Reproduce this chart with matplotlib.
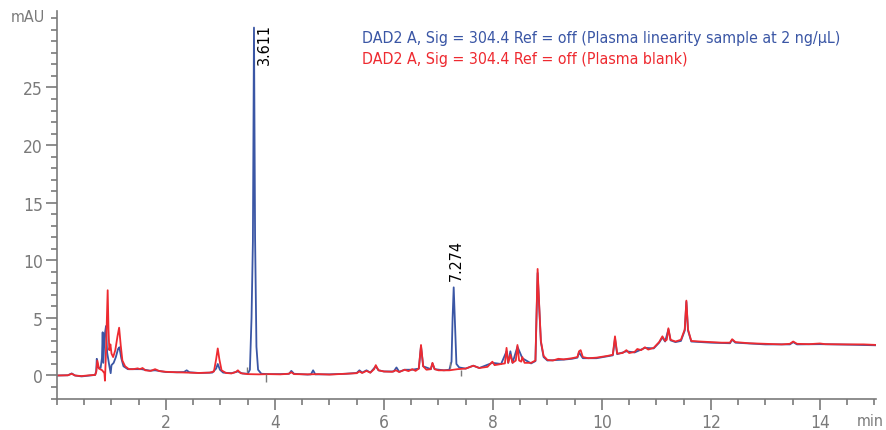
import numpy as np
import matplotlib
matplotlib.use('Agg')
import matplotlib.pyplot as plt
from matplotlib.ticker import MultipleLocator

plt.rcParams['font.family'] = ['DejaVu Sans']
plt.rcParams['font.stretch'] = 'condensed'

# ===== Plasma blank (red) =====
blank_t = [0.00, 0.20, 0.27, 0.33, 0.45, 0.60, 0.70, 0.72, 0.74, 0.77, 0.83, 0.87, 0.88,
           0.895, 0.915, 0.93, 0.945, 0.96, 0.98, 1.00, 1.03, 1.07, 1.11, 1.14, 1.17, 1.20,
           1.25, 1.32, 1.40, 1.48, 1.52, 1.57, 1.62, 1.72, 1.80, 1.88, 2.00, 2.20, 2.40,
           2.60, 2.80, 2.88, 2.92, 2.95, 2.98, 3.02, 3.10, 3.20, 3.28, 3.32, 3.37, 3.50,
           3.70, 3.90, 4.10, 4.25, 4.30, 4.35, 4.60, 4.80, 5.00, 5.30, 5.50, 5.55, 5.60,
           5.68, 5.75, 5.82, 5.85, 5.90, 6.00, 6.15, 6.22, 6.28, 6.38, 6.45, 6.52, 6.58,
           6.64, 6.68, 6.72, 6.78, 6.86, 6.89, 6.93, 7.00, 7.20, 7.35, 7.50, 7.64, 7.75,
           7.90, 7.99, 8.03, 8.15, 8.22, 8.25, 8.28, 8.32, 8.36, 8.42, 8.45, 8.48, 8.52,
           8.54, 8.58, 8.70, 8.78, 8.82, 8.85, 8.88, 8.93, 9.00, 9.10, 9.20, 9.30, 9.45,
           9.55, 9.58, 9.61, 9.65, 9.75, 9.90, 10.10, 10.20, 10.24, 10.28, 10.38, 10.45,
           10.50, 10.60, 10.65, 10.72, 10.79, 10.85, 10.95, 11.05, 11.11, 11.16, 11.19,
           11.22, 11.26, 11.35, 11.45, 11.52, 11.55, 11.58, 11.64, 11.80, 12.00, 12.20,
           12.35, 12.39, 12.45, 12.70, 13.00, 13.30, 13.45, 13.51, 13.58, 13.80, 14.00,
           14.10, 14.50, 14.80, 15.05]
blank_mau = [0.00, 0.02, 0.15, 0.00, -0.05, 0.02, 0.05, 0.30, 1.30, 0.60, 0.45, 0.20, -0.45,
             1.50, 5.00, 7.40, 4.00, 2.20, 2.70, 1.90, 1.60, 2.20, 3.40, 4.15, 2.60, 1.30,
             0.80, 0.55, 0.55, 0.62, 0.55, 0.65, 0.45, 0.40, 0.55, 0.38, 0.32, 0.28, 0.25,
             0.22, 0.25, 0.35, 1.40, 2.35, 1.40, 0.45, 0.22, 0.18, 0.30, 0.45, 0.20, 0.12,
             0.10, 0.12, 0.10, 0.15, 0.28, 0.12, 0.10, 0.12, 0.08, 0.15, 0.20, 0.35, 0.22,
             0.40, 0.25, 0.55, 0.90, 0.45, 0.35, 0.32, 0.45, 0.30, 0.50, 0.38, 0.55, 0.40,
             0.60, 2.65, 0.80, 0.50, 0.55, 1.10, 0.55, 0.45, 0.45, 0.55, 0.60, 0.85, 0.65,
             0.75, 1.20, 0.90, 1.00, 1.05, 2.40, 1.10, 1.80, 1.10, 1.30, 2.65, 1.30, 1.20,
             1.60, 1.10, 1.10, 1.30, 9.25, 6.00, 3.00, 1.70, 1.35, 1.30, 1.45, 1.40, 1.50,
             1.60, 2.10, 2.20, 1.60, 1.50, 1.55, 1.70, 1.80, 3.40, 1.90, 1.95, 2.20,
             1.95, 2.05, 2.30, 2.20, 2.45, 2.25, 2.40, 2.90, 3.40, 3.00, 3.10,
             4.10, 3.10, 2.95, 3.10, 4.00, 6.50, 4.00, 3.00, 2.95, 2.90, 2.85,
             2.85, 3.15, 2.90, 2.80, 2.75, 2.70, 2.75, 2.95, 2.75, 2.72, 2.78,
             2.72, 2.70, 2.70, 2.65]

# ===== Plasma linearity sample at 2 ng/uL (blue) =====
sample_t = [0.00, 0.20, 0.27, 0.33, 0.45, 0.60, 0.70, 0.72, 0.73, 0.75, 0.80, 0.825, 0.838,
            0.85, 0.875, 0.90, 0.92, 0.96, 0.985, 1.00, 1.04, 1.08, 1.12, 1.145, 1.18, 1.22,
            1.30, 1.45, 1.55, 1.70, 1.80, 2.00, 2.20, 2.33, 2.38, 2.43, 2.60, 2.85, 2.92,
            2.95, 2.99, 3.05, 3.20, 3.32, 3.40, 3.50, 3.54, 3.57, 3.595, 3.615, 3.635, 3.66,
            3.69, 3.75, 3.90, 4.10, 4.26, 4.30, 4.35, 4.60, 4.66, 4.70, 4.74, 5.00, 5.30,
            5.50, 5.55, 5.60, 5.68, 5.75, 5.85, 5.90, 6.00, 6.18, 6.23, 6.28, 6.38, 6.52,
            6.64, 6.68, 6.72, 6.86, 6.89, 6.93, 7.10, 7.20, 7.24, 7.26, 7.28, 7.30, 7.33,
            7.38, 7.50, 7.64, 7.75, 7.99, 8.15, 8.25, 8.28, 8.32, 8.36, 8.45, 8.54, 8.70,
            8.78, 8.82, 8.85, 8.88, 8.93, 9.00, 9.30, 9.45, 9.55, 9.58, 9.65, 9.90, 10.20,
            10.24, 10.28, 10.45, 10.60, 10.79, 10.95, 11.05, 11.11, 11.16, 11.22, 11.26,
            11.35, 11.45, 11.52, 11.55, 11.58, 11.64, 12.00, 12.35, 12.39, 12.45, 13.00,
            13.45, 13.51, 13.58, 14.00, 14.50, 15.05]
sample_mau = [0.00, 0.02, 0.18, 0.00, -0.08, 0.00, 0.05, 0.40, 1.45, 0.70, 0.65, 1.50, 3.75,
              1.10, 3.50, 4.30, 2.00, 0.85, 0.20, 0.90, 1.10, 1.60, 2.30, 2.45, 1.50, 0.80,
              0.55, 0.55, 0.55, 0.42, 0.45, 0.30, 0.28, 0.30, 0.45, 0.28, 0.22, 0.25, 0.60,
              1.00, 0.50, 0.25, 0.20, 0.35, 0.18, 0.15, 0.50, 5.00, 11.60, 30.20, 12.00, 2.50,
              0.50, 0.15, 0.12, 0.12, 0.15, 0.40, 0.15, 0.08, 0.10, 0.45, 0.10, 0.10, 0.15,
              0.22, 0.45, 0.25, 0.45, 0.25, 0.80, 0.45, 0.35, 0.35, 0.70, 0.32, 0.50, 0.50,
              0.60, 2.55, 0.80, 0.55, 1.05, 0.55, 0.45, 0.50, 1.20, 5.00, 7.65, 5.00, 1.00,
              0.70, 0.60, 0.85, 0.65, 1.10, 1.00, 2.10, 1.10, 2.10, 1.10, 2.50, 1.50, 1.05,
              1.25, 8.90, 5.80, 2.90, 1.60, 1.30, 1.38, 1.45, 1.55, 2.00, 1.50, 1.50, 1.75,
              3.20, 1.85, 2.10, 2.00, 2.40, 2.35, 2.85, 3.30, 2.95, 4.00, 3.05,
              2.90, 3.00, 3.90, 6.40, 3.90, 2.95, 2.85, 2.80, 3.10, 2.85, 2.70,
              2.70, 2.90, 2.70, 2.72, 2.68, 2.62]

# integration markers (gray ticks) and retention time labels
marker_t = [3.49, 3.83, 7.22, 7.41]
marker_lo = [0.3, -0.6, 0.65, -0.05]
marker_hi = [0.75, 0.1, 1.15, 0.45]
rt_labels = ['3.611', '7.274']
rt_x = [3.80, 7.33]
rt_y = [30.6, 11.85]

blue = '#3a56a5'
red = '#ee2a30'
gray = '#7a7a7a'

fig = plt.figure(figsize=(8.86, 4.31), dpi=100)
ax = fig.add_axes([57/886, 1-400/431, (876-57)/886, (400-12)/431])

ax.plot(sample_t, sample_mau, color=blue, lw=1.3)
ax.plot(blank_t, blank_mau, color=red, lw=1.3)
ax.vlines(marker_t, marker_lo, marker_hi, color=gray, lw=1.0)

for lab, x, y in zip(rt_labels, rt_x, rt_y):
    ax.text(x, y, lab, rotation=90, ha='center', va='top', fontsize=11.5, color='black')

ax.set_xlim(0, 15.03)
ax.set_ylim(-2.04, 31.64)
ax.xaxis.set_minor_locator(MultipleLocator(0.5))
ax.yaxis.set_minor_locator(MultipleLocator(1))
ax.set_xticks([2, 4, 6, 8, 10, 12, 14])
ax.set_yticks([0, 5, 10, 15, 20, 25])

for s in ['top', 'right']:
    ax.spines[s].set_visible(False)
for s in ['left', 'bottom']:
    ax.spines[s].set_color(gray)
    ax.spines[s].set_linewidth(1.2)

ax.tick_params(which='major', length=8, width=1.2, color=gray, labelcolor=gray,
               labelsize=12.5, pad=2)
ax.tick_params(which='minor', length=4, width=1.2, color=gray)

fig.text(45/886, 1-18/431, 'mAU', ha='right', va='center', fontsize=11.5, color=gray)
fig.text(870/886, 1-422/431, 'min', ha='center', va='center', fontsize=11.5, color=gray)

fig.text(362/886, 1-38/431, 'DAD2 A, Sig = 304.4 Ref = off (Plasma linearity sample at 2 ng/µL)',
         ha='left', va='center', fontsize=11.4, color=blue)
fig.text(362/886, 1-60/431, 'DAD2 A, Sig = 304.4 Ref = off (Plasma blank)',
         ha='left', va='center', fontsize=11.4, color=red)

fig.savefig('out.png', dpi=100)
